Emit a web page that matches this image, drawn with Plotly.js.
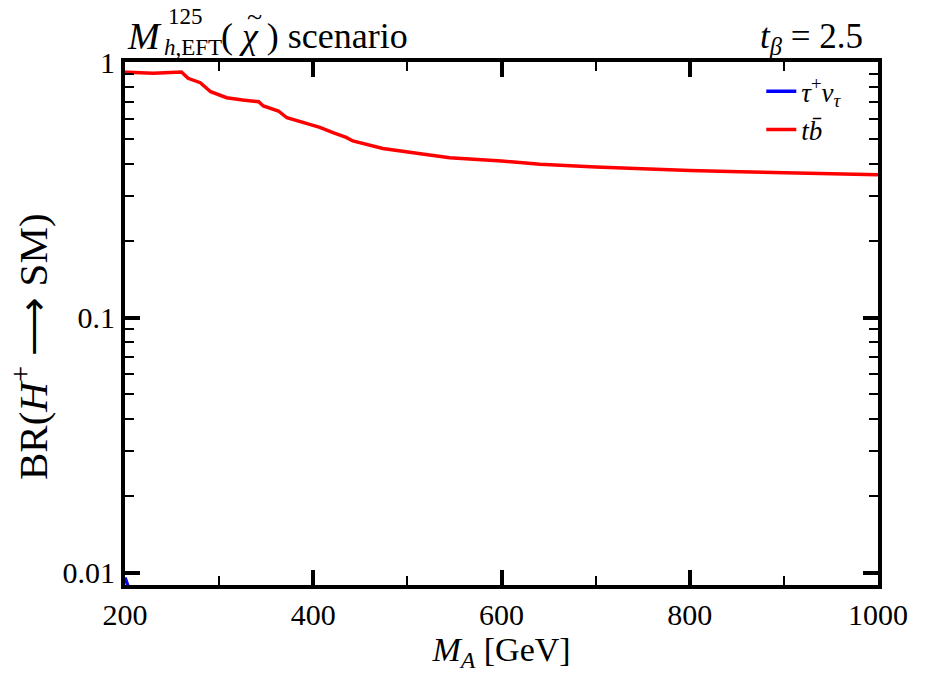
<!DOCTYPE html>
<html>
<head>
<meta charset="utf-8">
<script src="https://cdn.plot.ly/plotly-3.0.1.min.js"></script>
<style>
  html, body { margin: 0; padding: 0; background: #fff; }
  #plot { width: 925px; height: 684px; }
</style>
</head>
<body>
<div id="plot"></div>
<script>
// M_A in GeV, BR
const mA_tb = [200, 203, 230, 260, 267, 280, 291, 308, 325, 342, 347, 363, 372, 390, 407, 421, 435, 442, 458, 474, 510, 545, 600, 641, 700, 747, 800, 853, 900, 1000];
const br_tb = [0.911, 0.911, 0.903, 0.914, 0.863, 0.830, 0.765, 0.725, 0.710, 0.699, 0.673, 0.643, 0.605, 0.577, 0.555, 0.529, 0.507, 0.491, 0.474, 0.459, 0.439, 0.422, 0.410, 0.398, 0.388, 0.381, 0.376, 0.372, 0.368, 0.362];

const mA_tau = [200, 202, 205, 210];
const br_tau = [0.0096, 0.0091, 0.0085, 0.0078];

const yTickVals = [0.01, 0.1, 1];
const yTickText = ['0.01', '0.1', '1'];
const yMinorVals = [0.02, 0.03, 0.04, 0.05, 0.06, 0.07, 0.08, 0.09, 0.2, 0.3, 0.4, 0.5, 0.6, 0.7, 0.8, 0.9];

const serif = 'Liberation Serif';

const data = [
  {
    x: mA_tau, y: br_tau,
    mode: 'lines',
    name: '<i>τ</i><sup>+</sup><i>ν</i><sub><i>τ</i></sub>',
    line: { color: '#0000ff', width: 3.5 },
  },
  {
    x: mA_tb, y: br_tb,
    mode: 'lines',
    name: '<i>tb̄</i>',
    line: { color: '#ff0000', width: 3.5 },
  }
];

const axisCommon = {
  showline: true,
  linecolor: '#000',
  linewidth: 4,
  mirror: 'allticks',
  ticks: 'inside',
  ticklen: 15,
  tickwidth: 4,
  tickcolor: '#000',
  showgrid: false,
  zeroline: false,
  tickfont: { family: serif, size: 30, color: '#000' },
};

function txt(text, size, xshift, yshift, xanchor) {
  return {
    xref: 'paper', yref: 'paper', x: 0, y: 1,
    xanchor: xanchor || 'left', yanchor: 'middle',
    xshift: xshift, yshift: yshift,
    text: text, showarrow: false,
    font: { family: serif, size: size, color: '#000' },
  };
}

const layout = {
  width: 925,
  height: 684,
  paper_bgcolor: '#fff',
  plot_bgcolor: '#fff',
  margin: { l: 125, r: 47, t: 62, b: 99, pad: 0 },
  showlegend: true,
  legend: {
    x: 0.845, xanchor: 'left',
    y: 0.99, yanchor: 'top',
    bgcolor: 'rgba(0,0,0,0)',
    font: { family: serif, size: 27, color: '#000' },
    tracegroupgap: 0,
  },
  xaxis: Object.assign({}, axisCommon, {
    range: [200, 1000],
    tick0: 200,
    dtick: 200,
    minor: { dtick: 100, ticks: 'inside', ticklen: 9, tickwidth: 2, tickcolor: '#000' },
    title: { text: '<i>M</i><sub><i>A</i></sub> [GeV]', font: { family: serif, size: 34, color: '#000' }, standoff: 6 },
  }),
  yaxis: Object.assign({}, axisCommon, {
    type: 'log',
    range: [-2.047, 0],
    tickmode: 'array',
    tickvals: yTickVals,
    ticktext: yTickText,
    minor: { tickmode: 'array', tickvals: yMinorVals, ticks: 'inside', ticklen: 9, tickwidth: 2, tickcolor: '#000' },
    title: { text: '' },
  }),
  annotations: [
    txt('<i>M</i>', 38, 0, 26),
    txt('125', 23, 41, 46),
    txt('<i>h</i>,EFT', 23, 37, 15),
    txt('( <i>χ</i> ) scenario', 36, 94, 26),
    txt('~', 28, 129, 46, 'center'),
    {
      xref: 'paper', yref: 'paper', x: 1, y: 1, xanchor: 'right', yanchor: 'middle', xshift: -13, yshift: 24,
      text: '<i>t</i><sub><i>β</i></sub> = 2.5', showarrow: false,
      font: { family: serif, size: 35, color: '#000' },
    },
    {
      xref: 'paper', yref: 'paper', x: 0, y: 0.455, xanchor: 'center', yanchor: 'middle', xshift: -95,
      textangle: -90,
      text: 'BR(<i>H</i><sup>+</sup>&nbsp;⟶&nbsp;SM)', showarrow: false,
      font: { family: serif, size: 41, color: '#000' },
    },
  ],
};

Plotly.newPlot('plot', data, layout, { staticPlot: true, displayModeBar: false });
</script>
</body>
</html>
